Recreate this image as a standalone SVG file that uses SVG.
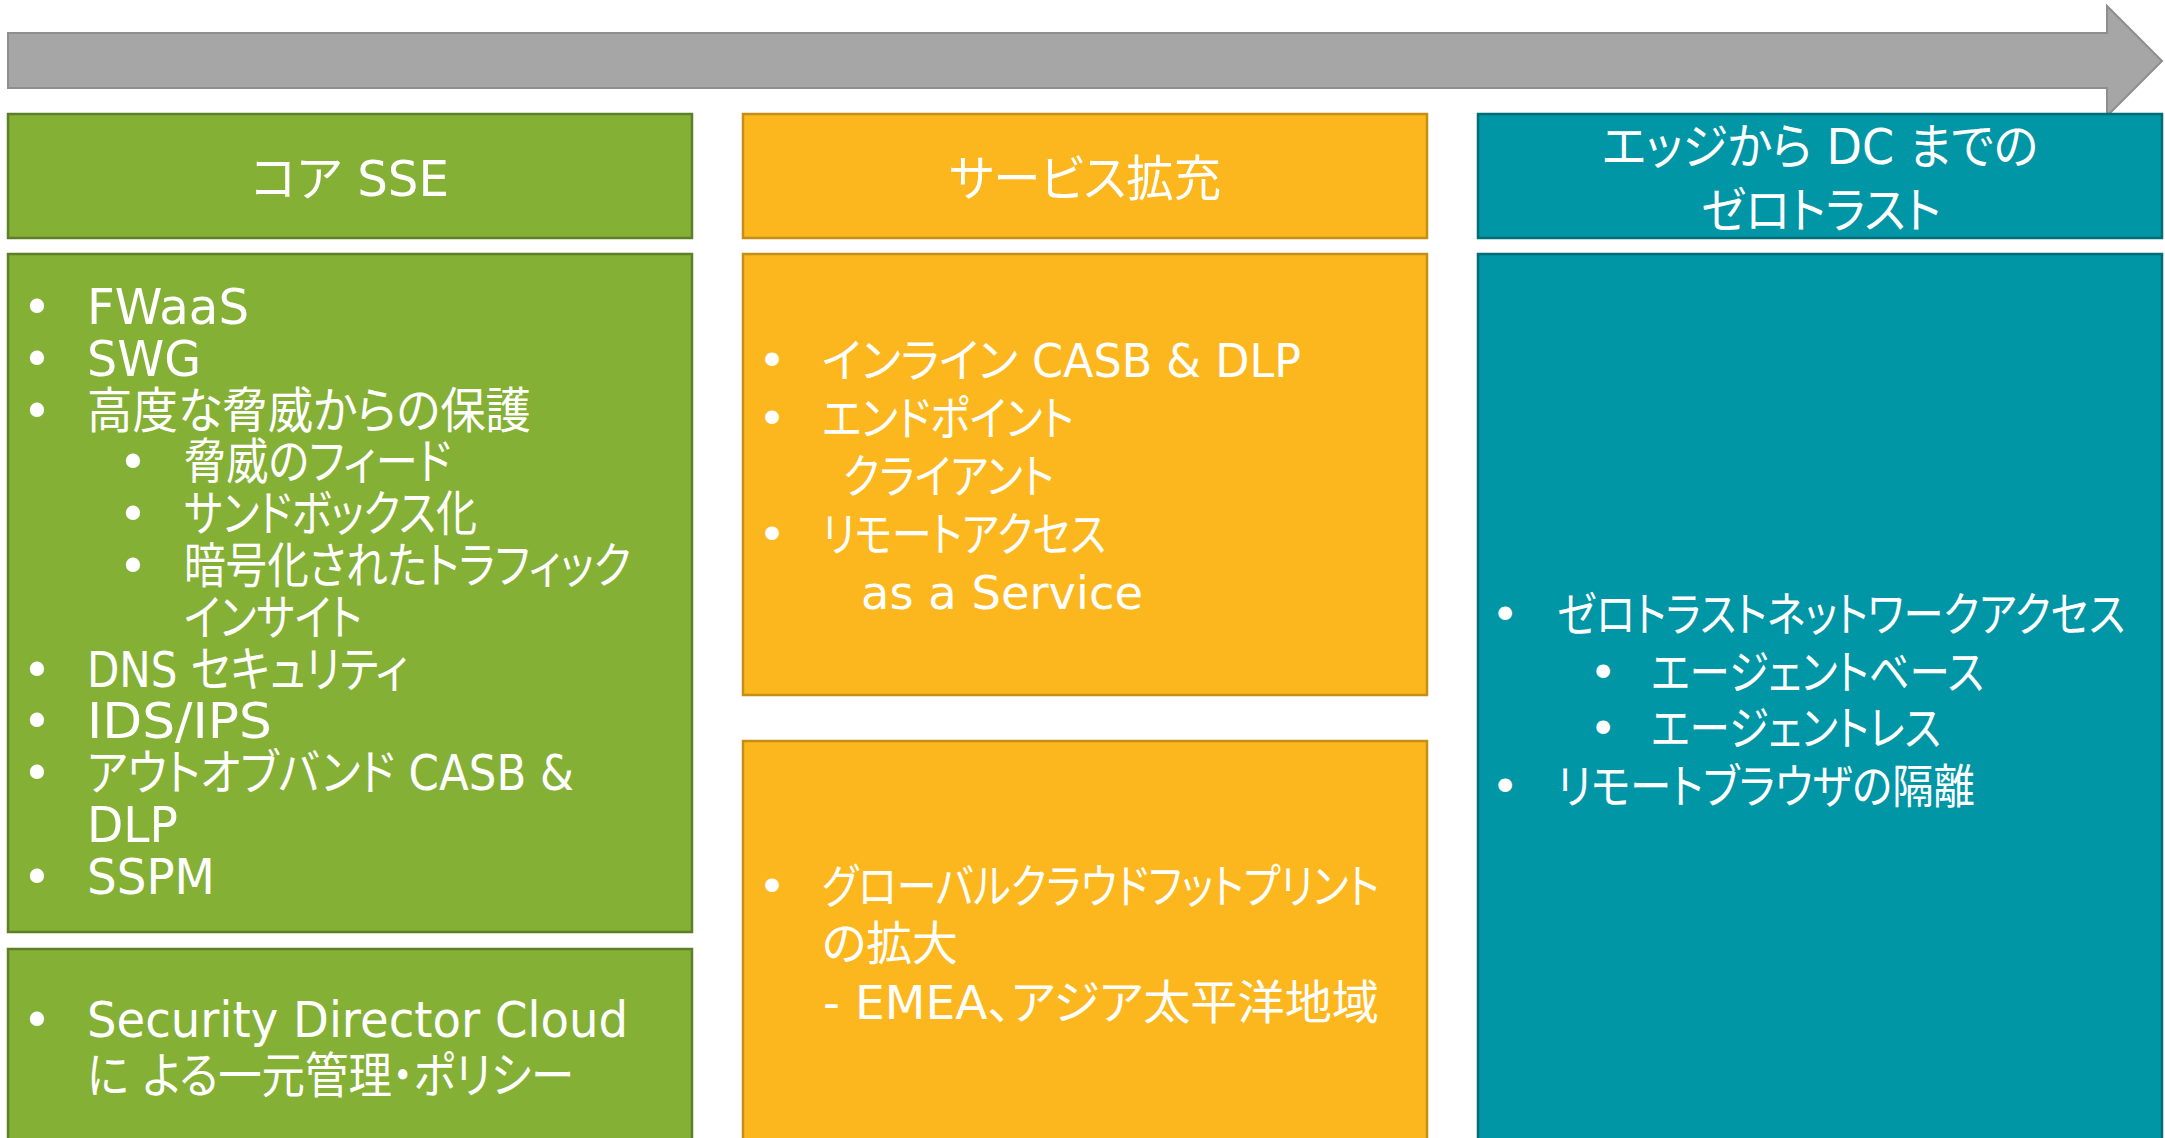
<svg xmlns="http://www.w3.org/2000/svg" width="2165" height="1138" viewBox="0 0 2165 1138">
<style>
  text { font-family: "DejaVu Sans", "Noto Sans CJK JP", sans-serif; fill: #ffffff; font-feature-settings: "palt" 1; }
  .gr { fill: #85B036; stroke: #5E7F27; stroke-width: 2.5; }
  .or { fill: #FDB71E; stroke: #C48F14; stroke-width: 2.5; }
  .te { fill: #0096A6; stroke: #006C78; stroke-width: 2.5; }
  .h { font-size: 49px; text-anchor: middle; }
  .g { font-size: 49px; }
  .o { font-size: 47px; }
  .c { font-size: 47px; }
  .b { text-anchor: middle; }
</style>

<g id="connectors">
  <polygon id="timeline-arrow" points="8,33 2107,33 2107,6 2162,61 2107,116 2107,88 8,88" fill="#A6A6A6" stroke="#8E8E8E" stroke-width="2"/>
</g>

<g id="header-core-sse">
  <rect class="gr" x="8" y="114" width="684" height="124"/>
  <text class="h" x="350" y="196" textLength="198" lengthAdjust="spacingAndGlyphs">コア SSE</text>
</g>

<g id="header-service-expansion">
  <rect class="or" x="743" y="114" width="684" height="124"/>
  <text class="h" x="1085" y="196" textLength="272" lengthAdjust="spacingAndGlyphs">サービス拡充</text>
</g>

<g id="header-zero-trust">
  <rect class="te" x="1478" y="114" width="684" height="124"/>
  <text class="h" x="1820" y="164" textLength="436" lengthAdjust="spacingAndGlyphs">エッジから DC までの</text>
  <text class="h" x="1821" y="228" textLength="240" lengthAdjust="spacingAndGlyphs">ゼロトラスト</text>
</g>

<g id="core-sse-features">
  <rect class="gr" x="8" y="254" width="684" height="678"/>
  <g class="g">
    <text class="b" x="37" y="324">•</text>
    <text x="87" y="324" textLength="162" lengthAdjust="spacingAndGlyphs">FWaaS</text>
    <text class="b" x="37" y="376">•</text>
    <text x="87" y="376" textLength="114" lengthAdjust="spacingAndGlyphs">SWG</text>
    <text class="b" x="37" y="428">•</text>
    <text x="87" y="428" textLength="444" lengthAdjust="spacingAndGlyphs">高度な脅威からの保護</text>
    <text class="b" x="133" y="479">•</text>
    <text x="184" y="479" textLength="267" lengthAdjust="spacingAndGlyphs">脅威のフィード</text>
    <text class="b" x="133" y="531">•</text>
    <text x="184" y="531" textLength="293" lengthAdjust="spacingAndGlyphs">サンドボックス化</text>
    <text class="b" x="133" y="583">•</text>
    <text x="184" y="583" textLength="447" lengthAdjust="spacingAndGlyphs">暗号化されたトラフィック</text>
    <text x="184" y="635" textLength="178" lengthAdjust="spacingAndGlyphs">インサイト</text>
    <text class="b" x="37" y="687">•</text>
    <text x="87" y="687" textLength="321" lengthAdjust="spacingAndGlyphs">DNS セキュリティ</text>
    <text class="b" x="37" y="738">•</text>
    <text x="87" y="738" textLength="185" lengthAdjust="spacingAndGlyphs">IDS/IPS</text>
    <text class="b" x="37" y="790">•</text>
    <text x="87" y="790" textLength="487" lengthAdjust="spacingAndGlyphs">アウトオブバンド CASB &amp;</text>
    <text x="87" y="842" textLength="91" lengthAdjust="spacingAndGlyphs">DLP</text>
    <text class="b" x="37" y="894">•</text>
    <text x="87" y="894" textLength="128" lengthAdjust="spacingAndGlyphs">SSPM</text>
  </g>
</g>

<g id="core-sse-management">
  <rect class="gr" x="8" y="949" width="684" height="200"/>
  <g class="g">
    <text class="b" x="37" y="1037">•</text>
    <text x="87" y="1037" textLength="541" lengthAdjust="spacingAndGlyphs">Security Director Cloud</text>
    <text x="87" y="1093" textLength="487" lengthAdjust="spacingAndGlyphs">に よる一元管理・ポリシー</text>
  </g>
</g>

<g id="service-expansion-features">
  <rect class="or" x="743" y="254" width="684" height="441"/>
  <g class="o">
    <text class="b" x="772" y="377">•</text>
    <text x="822" y="377" textLength="479" lengthAdjust="spacingAndGlyphs">インライン CASB &amp; DLP</text>
    <text class="b" x="772" y="435">•</text>
    <text x="822" y="435" textLength="252" lengthAdjust="spacingAndGlyphs">エンドポイント</text>
    <text x="843" y="493" textLength="211" lengthAdjust="spacingAndGlyphs">クライアント</text>
    <text class="b" x="772" y="551">•</text>
    <text x="822" y="551" textLength="284" lengthAdjust="spacingAndGlyphs">リモートアクセス</text>
    <text x="861" y="609" textLength="282" lengthAdjust="spacingAndGlyphs">as a Service</text>
  </g>
</g>

<g id="service-expansion-footprint">
  <rect class="or" x="743" y="741" width="684" height="408"/>
  <g class="o">
    <text class="b" x="772" y="903">•</text>
    <text x="822" y="903" textLength="557" lengthAdjust="spacingAndGlyphs">グローバルクラウドフットプリント</text>
    <text x="822" y="960" textLength="136" lengthAdjust="spacingAndGlyphs">の拡大</text>
    <text x="823" y="1019" textLength="556" lengthAdjust="spacingAndGlyphs">- EMEA、アジア太平洋地域</text>
  </g>
</g>

<g id="zero-trust-features">
  <rect class="te" x="1478" y="254" width="684" height="895"/>
  <g class="c">
    <text class="b" x="1505" y="631">•</text>
    <text x="1557" y="631" textLength="568" lengthAdjust="spacingAndGlyphs">ゼロトラストネットワークアクセス</text>
    <text class="b" x="1603" y="689">•</text>
    <text x="1651" y="689" textLength="333" lengthAdjust="spacingAndGlyphs">エージェントベース</text>
    <text class="b" x="1603" y="745">•</text>
    <text x="1651" y="745" textLength="290" lengthAdjust="spacingAndGlyphs">エージェントレス</text>
    <text class="b" x="1505" y="803">•</text>
    <text x="1557" y="803" textLength="418" lengthAdjust="spacingAndGlyphs">リモートブラウザの隔離</text>
  </g>
</g>
</svg>
